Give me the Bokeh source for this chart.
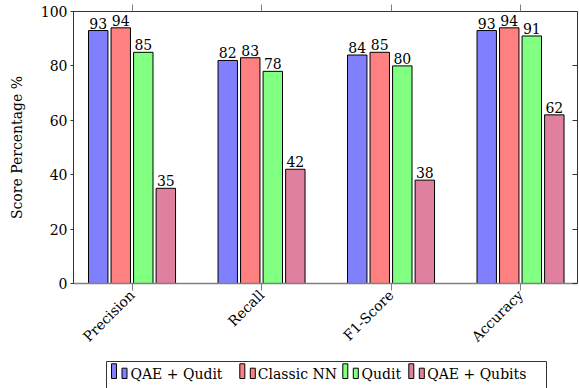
import numpy as np
from math import pi
from bokeh.plotting import figure
from bokeh.models import Range1d, FixedTicker, LinearAxis, ColumnDataSource
from bokeh.layouts import column
from bokeh.core.properties import value
from bokeh.embed import file_html
from bokeh.resources import INLINE

# ---------------- data ----------------
categories = ["Precision", "Recall", "F1-Score", "Accuracy"]
series_names = ["QAE + Qudit", "Classic NN", "Qudit", "QAE + Qubits"]
qae_qudit = [93, 82, 84, 93]
classic_nn = [94, 83, 85, 94]
qudit = [85, 78, 80, 91]
qae_qubits = [35, 42, 38, 62]
y_ticks = [0, 20, 40, 60, 80, 100]
y_label = "Score Percentage %"

series_values = [qae_qudit, classic_nn, qudit, qae_qubits]
colors = ["#8080FF", "#FF8080", "#80FF80", "#DF809F"]

# ---------------- layout / style ----------------
FONT = "DejaVu Serif"
FS = "14px"
W = 579
H_MAIN = 356
H_LEG = 32
BL, BR = 73, 2          # left / right borders of the plotting frame (px)
BAR_W = 0.15
STEP = 0.174

p = figure(width=W, height=H_MAIN, output_backend="svg", toolbar_location=None,
           x_range=Range1d(-0.452, 3.44), y_range=Range1d(0, 100),
           min_border_left=BL, min_border_right=BR, min_border_top=11,
           min_border_bottom=73, outline_line_color="#333333",
           outline_line_width=1, outline_line_alpha=1.0)
p.xgrid.visible = False
p.ygrid.visible = False

xc = np.arange(len(categories))
for i, (vals, col) in enumerate(zip(series_values, colors)):
    src = ColumnDataSource(dict(x=xc + (i - 1.5) * STEP, top=vals,
                                label=[str(v) for v in vals]))
    p.vbar(x="x", top="top", width=BAR_W, source=src, fill_color=col,
           line_color="#000000", line_width=1)
    p.text(x="x", y="top", text="label", source=src, text_align="center",
           text_baseline="bottom", y_offset=-2, text_font=value(FONT),
           text_font_size=FS, text_color="#000000")

# bottom axis
p.xaxis.ticker = FixedTicker(ticks=list(range(len(categories))))
p.xaxis.major_label_overrides = {i: c for i, c in enumerate(categories)}
p.xaxis.major_label_orientation = pi / 4
p.xaxis.major_label_text_font = FONT
p.xaxis.major_label_text_font_size = FS
p.xaxis.major_label_text_color = "#000000"
p.xaxis.major_label_standoff = 2
p.xaxis.major_tick_out = 7
p.xaxis.major_tick_in = 0
p.xaxis.major_tick_line_color = "#808080"
p.xaxis.axis_line_color = "#808080"
p.xaxis.axis_line_width = 1.5
p.xaxis.minor_tick_line_color = None

# left axis
p.yaxis.ticker = FixedTicker(ticks=y_ticks)
p.yaxis.major_label_text_font = FONT
p.yaxis.major_label_text_font_size = FS
p.yaxis.major_label_text_color = "#000000"
p.yaxis.major_label_standoff = 3
p.yaxis.major_tick_out = 3
p.yaxis.major_tick_in = 0
p.yaxis.major_tick_line_color = "#333333"
p.yaxis.axis_line_color = "#333333"
p.yaxis.minor_tick_line_color = None
p.yaxis.axis_label = y_label
p.yaxis.axis_label_text_font = FONT
p.yaxis.axis_label_text_font_size = FS
p.yaxis.axis_label_text_font_style = "normal"
p.yaxis.axis_label_text_color = "#000000"
p.yaxis.axis_label_standoff = 13

# top axis (ticks only)
top_ax = LinearAxis(ticker=FixedTicker(ticks=list(range(len(categories)))),
                    major_label_overrides={i: "" for i in range(len(categories))},
                    major_label_text_font_size="0px", major_label_standoff=0,
                    major_tick_out=7, major_tick_in=0,
                    major_tick_line_color="#808080", axis_line_color=None,
                    minor_tick_line_color=None)
p.add_layout(top_ax, "above")

# right axis (ticks only)
right_ax = LinearAxis(ticker=FixedTicker(ticks=y_ticks),
                      major_label_overrides={t: "" for t in y_ticks},
                      major_label_text_font_size="0px", major_label_standoff=0,
                      major_tick_out=0, major_tick_in=5,
                      major_tick_line_color="#333333", axis_line_color=None,
                      minor_tick_line_color=None)
p.add_layout(right_ax, "right")

# ---------------- legend (drawn as its own small panel) ----------------
# its frame is aligned with the main frame, so page-x coordinates are used
leg = figure(width=W, height=H_LEG, output_backend="svg", toolbar_location=None,
             x_range=Range1d(BL, W - BR), y_range=Range1d(H_LEG, 0),
             x_axis_location=None, y_axis_location=None,
             min_border_left=BL, min_border_right=BR, min_border_top=0,
             min_border_bottom=0, outline_line_color=None)
leg.grid.visible = False

box_l, box_r, box_t, box_b = 106, 546, 5, 45
leg.quad(left=[box_l], right=[box_r], top=[box_t], bottom=[box_b],
         fill_color=None, line_color="#333333", line_width=1)

icon_x = [111, 239.3, 342.3, 408.3]
text_x = [130, 257.3, 361, 426.7]
base_y = 22
icon_w = 5
leg.quad(left=icon_x, right=[x + icon_w for x in icon_x],
         top=[7.3] * 4, bottom=[base_y] * 4,
         fill_color=colors, line_color="#000000", line_width=1)
leg.quad(left=[x + 10.5 for x in icon_x], right=[x + 10.5 + icon_w for x in icon_x],
         top=[11.7] * 4, bottom=[base_y] * 4,
         fill_color=colors, line_color="#000000", line_width=1)
leg.text(x=text_x, y=[base_y + 3.3] * 4, text=series_names, text_align="left",
         text_baseline="bottom", text_font=value(FONT), text_font_size=FS,
         text_color="#000000")

layout = column(p, leg, spacing=0)

open("out.html", "w").write(file_html(layout, INLINE))
